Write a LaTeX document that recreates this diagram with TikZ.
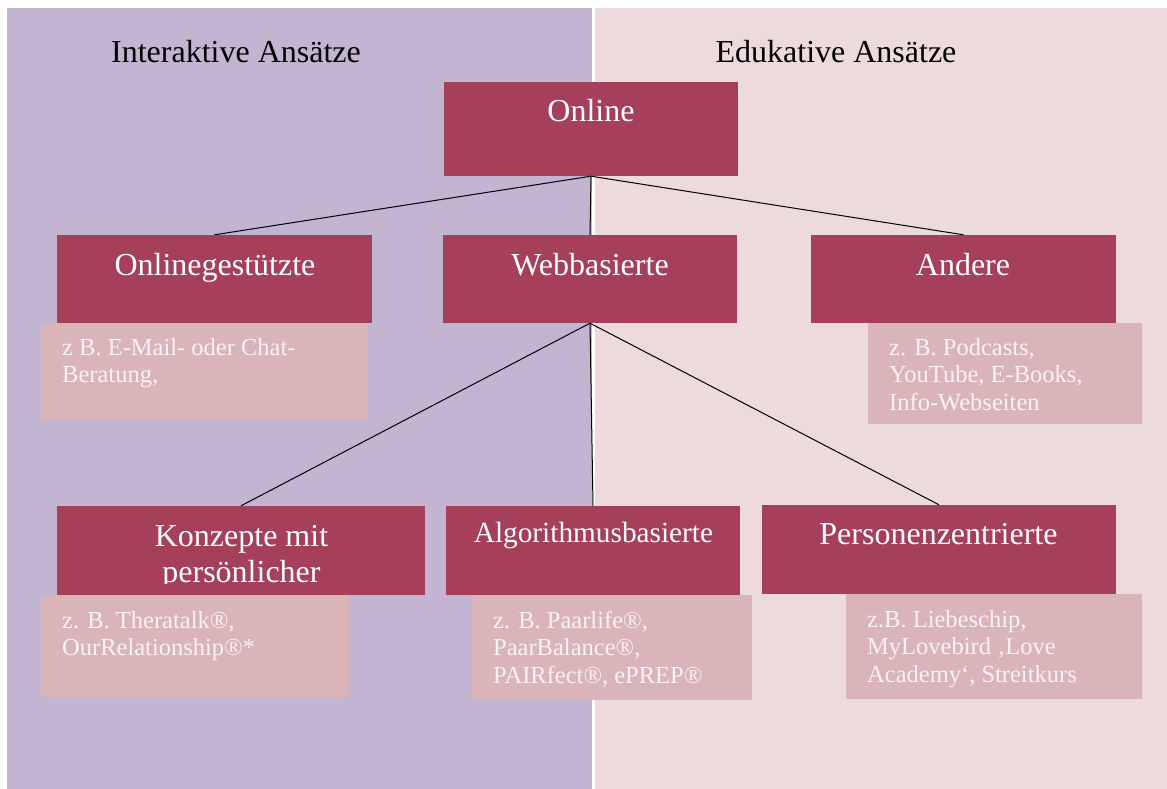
\documentclass[tikz,border=0pt]{standalone}
\usepackage{fontspec}
\setmainfont{Liberation Serif}
\definecolor{bgleft}{RGB}{195,180,210}
\definecolor{bgright}{RGB}{236,218,220}
\definecolor{boxred}{RGB}{166,64,90}
\definecolor{subpink}{RGB}{217,180,184}
\definecolor{subtext}{RGB}{250,242,244}
\begin{document}
\begin{tikzpicture}[x=1pt,y=-1pt,
  redbox/.style={fill=boxred, draw=none, inner sep=0pt, rectangle},
  subbox/.style={fill=subpink, draw=none, inner sep=0pt, rectangle},
  hdrtext/.style={inner sep=0pt, text=black, font=\fontsize{32}{38}\selectfont},
  boxtext/.style={inner sep=0pt, text=white, font=\fontsize{32}{37}\selectfont},
  subtxt/.style={inner sep=0pt, text=subtext, anchor=base west, font=\fontsize{24.5}{27.5}\selectfont},
  conn/.style={draw=black, line width=1pt}]
\useasboundingbox (0,0) rectangle (1167,789);
% backgrounds
\fill[white] (0,0) rectangle (1167,789);
\fill[bgleft] (7,8) rectangle (592,789);
\fill[bgright] (595,8) rectangle (1167,789);
% headers
\node[hdrtext, anchor=base] (hl) at (236,63) {Interaktive Ansätze};
\node[hdrtext, anchor=base] (hr) at (836,63) {Edukative Ansätze};
% red boxes
\node[redbox, minimum width=294pt, minimum height=94pt] (online) at (591,129) {};
\node[redbox, minimum width=315pt, minimum height=88pt] (og) at (214.5,279) {};
\node[redbox, minimum width=294pt, minimum height=88pt] (wb) at (590,279) {};
\node[redbox, minimum width=305pt, minimum height=88pt] (an) at (963.5,279) {};
\node[redbox, minimum width=368pt, minimum height=89pt] (kp) at (241,550.5) {};
\node[redbox, minimum width=294pt, minimum height=89pt] (al) at (593,550.5) {};
\node[redbox, minimum width=354pt, minimum height=89pt] (pz) at (939,549.5) {};
% connectors
\draw[conn] (online.south) -- (og.north);
\draw[conn] (online.south) -- (wb.north);
\draw[conn] (online.south) -- (an.north);
\draw[conn] (wb.south) -- (kp.north);
\draw[conn] (wb.south) -- (al.north);
\draw[conn] (wb.south) -- (pz.north);
% red box texts
\node[boxtext, anchor=base] (t-online) at (591,122) {Online};
\node[boxtext, anchor=base] (t-og) at (215,275) {Onlinegestützte};
\node[boxtext, anchor=base] (t-wb) at (590,275) {Webbasierte};
\node[boxtext, anchor=base] (t-an) at (963,275) {Andere};
\begin{scope}
  \clip (57,506) rectangle (425,583);
  \node[boxtext, anchor=base, font=\fontsize{32}{36.5}\selectfont] (t-kp) at (241.5,546) {\parbox[t]{320pt}{\centering Konzepte mit\\persönlicher}};
\end{scope}
\node[boxtext, anchor=base, font=\fontsize{29.3}{34}\selectfont] (t-al) at (593.5,542) {Algorithmusbasierte};
\node[boxtext, anchor=base] (t-pz) at (938.5,544) {Personenzentrierte};
% sub boxes
\node[subbox, minimum width=326pt, minimum height=97pt] (s-og) at (204,371.5) {};
\node[subbox, minimum width=274pt, minimum height=101pt] (s-an) at (1005,373.5) {};
\node[subbox, minimum width=308pt, minimum height=102pt] (s-kp) at (195,646) {};
\node[subbox, minimum width=280pt, minimum height=105pt] (s-al) at (612,647.5) {};
\node[subbox, minimum width=296pt, minimum height=105pt] (s-pz) at (994,646.5) {};
% sub texts
\node[subtxt] (st-og) at (62,355) {\parbox[t]{300pt}{\raggedright z B. E-Mail- oder Chat-\\Beratung,}};
\node[subtxt] (st-an) at (889,355) {\parbox[t]{250pt}{\raggedright z. B. Podcasts,\\YouTube, E-Books,\\Info-Webseiten}};
\node[subtxt] (st-kp) at (62,628) {\parbox[t]{280pt}{\raggedright z. B. Theratalk®,\\OurRelationship®*}};
\node[subtxt] (st-al) at (493,628) {\parbox[t]{255pt}{\raggedright z. B. Paarlife®,\\PaarBalance®,\\PAIRfect®, ePREP®}};
\node[subtxt] (st-pz) at (867,627) {\parbox[t]{270pt}{\raggedright z.B. Liebeschip,\\MyLovebird ‚Love\\Academy‘, Streitkurs}};
\end{tikzpicture}
\end{document}
